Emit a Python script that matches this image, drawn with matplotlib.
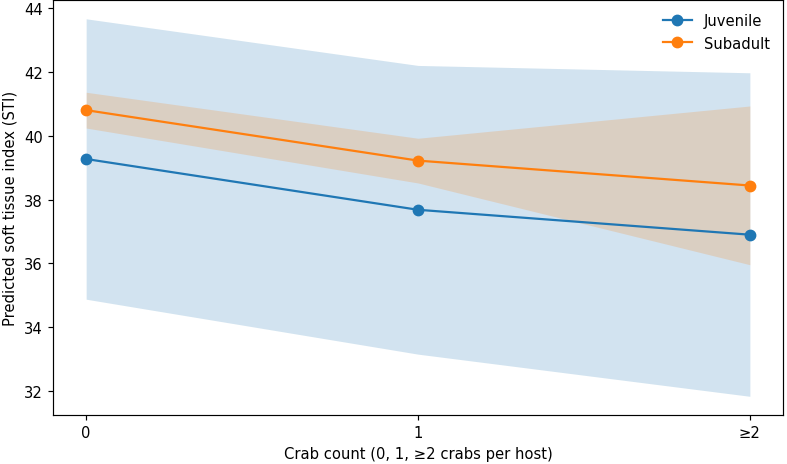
import matplotlib
matplotlib.use('Agg')
import matplotlib.pyplot as plt
import numpy as np

# Crab count categories
categories = ['0', '1', '≥2']

# Predicted STI per age class, with confidence bands
juvenile = [39.27, 37.68, 36.90]
juvenile_lo = [34.88, 33.16, 31.84]
juvenile_hi = [43.66, 42.20, 41.97]

subadult = [40.80, 39.22, 38.44]
subadult_lo = [40.24, 38.52, 35.96]
subadult_hi = [41.36, 39.92, 40.93]

x = np.arange(len(categories))

dpi = 106
fig = plt.figure(figsize=(787 / dpi, 465 / dpi), dpi=dpi)
ax = fig.add_axes([0.0673, 0.105, 0.9277, 0.893])

ax.fill_between(x, juvenile_lo, juvenile_hi, color='C0', alpha=0.2, linewidth=0)
ax.plot(x, juvenile, marker='o', markersize=7, color='C0', label='Juvenile')
ax.fill_between(x, subadult_lo, subadult_hi, color='C1', alpha=0.2, linewidth=0)
ax.plot(x, subadult, marker='o', markersize=7, color='C1', label='Subadult')

ax.set_xticks(x)
ax.set_xticklabels(categories)
ax.set_xlabel('Crab count (0, 1, ≥2 crabs per host)')
ax.set_ylabel('Predicted soft tissue index (STI)')
ax.legend(loc='upper right', frameon=False)

plt.savefig('out.png', dpi=dpi)
plt.close()
